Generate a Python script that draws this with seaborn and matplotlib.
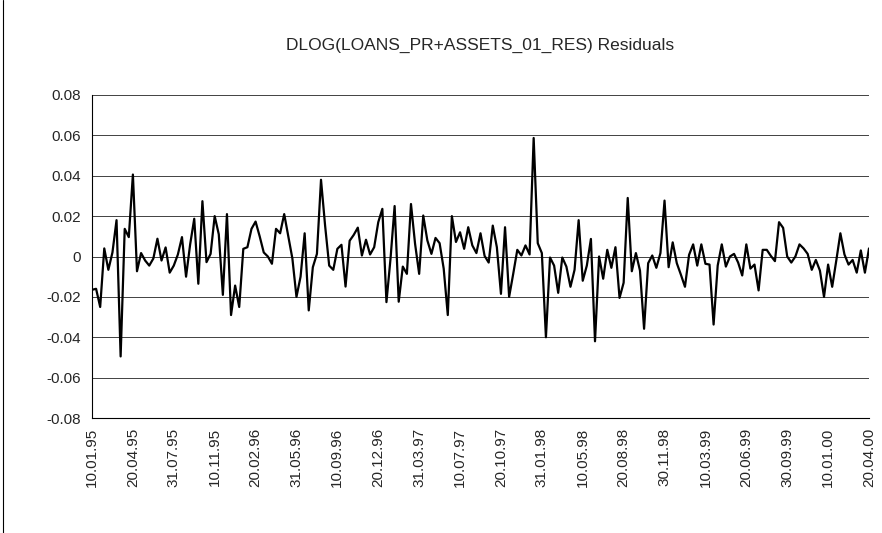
import calendar
import matplotlib
matplotlib.use("Agg")
import matplotlib.pyplot as plt
from matplotlib.lines import Line2D
import seaborn as sns
import pandas as pd
import numpy as np

# residuals, one value per dekad (10th, 20th, month end)
resid = [
    -0.0165, -0.016, -0.025, 0.004, -0.0066, 0.002, 0.018, -0.0495, 0.0137, 0.0096,
    0.0406, -0.0073, 0.0017, -0.002, -0.0045, -0.001, 0.0088, -0.002, 0.0045, -0.008,
    -0.0045, 0.001, 0.0096, -0.010, 0.006, 0.0187, -0.0135, 0.0274, -0.0028, 0.0013,
    0.020,
    0.011, -0.019, 0.021, -0.029, -0.0144, -0.025, 0.0038, 0.0046, 0.0137, 0.0173,
    0.010, 0.002, 0.0, -0.0036, 0.0137, 0.0115, 0.021, 0.010, -0.001, -0.020,
    -0.010, 0.0115, -0.0267, -0.0053, 0.0013, 0.038, 0.0153, -0.0045, -0.0066, 0.0038,
    0.0058,
    -0.0149, 0.0078, 0.0107, 0.0143, 0.0005, 0.0083, 0.001, 0.0046, 0.017, 0.0236,
    -0.0226, -0.001, 0.025, -0.0224, -0.005, -0.0086, 0.026, 0.0063, -0.0086, 0.0203,
    0.008, 0.0013, 0.0092, 0.0066, -0.006, -0.029,
    0.020, 0.0072, 0.012, 0.0038, 0.0145, 0.0055, 0.0017, 0.0115, 0.0003, -0.003,
    0.0153, 0.0046, -0.0185, 0.0145, -0.020, -0.0086, 0.0033, 0.0005, 0.0055, 0.001,
    0.0587,
    0.0066, 0.0017, -0.040, -0.0005, -0.0045, -0.018, -0.0005, -0.005, -0.015, -0.0066,
    0.018, -0.012, -0.0045, 0.0087, -0.042,
    0.0, -0.011, 0.0033, -0.0056, 0.0046, -0.0205, -0.013, 0.029, -0.0073, 0.0017,
    -0.007, -0.0358, -0.0033, 0.0005, -0.0056, 0.0017, 0.0277, -0.0053, 0.007, -0.0033,
    -0.009, -0.015, 0.0008, 0.006, -0.0045, 0.006, -0.0036, -0.004, -0.0337, -0.0045,
    0.006, -0.005,
    0.0, 0.0013, -0.003, -0.0094, 0.006, -0.006, -0.004, -0.0168, 0.0033, 0.0033,
    0.0003, -0.0023, 0.017, 0.0142, 0.0, -0.003, 0.0, 0.006, 0.004, 0.0013,
    -0.0066, -0.0017, -0.007, -0.020, -0.004, -0.015, -0.002, 0.0115, 0.001, -0.004,
    -0.0017,
    -0.008, 0.003, -0.008, 0.004,
]

# dekad dates 10.01.95 ... 20.04.00
dates = []
for yr in range(1995, 2001):
    for m in range(1, 13):
        for d in (10, 20, calendar.monthrange(yr, m)[1]):
            dates.append(f"{d:02d}.{m:02d}.{yr % 100:02d}")
dates = dates[:len(resid)]

y_ticks = [-0.08, -0.06, -0.04, -0.02, 0, 0.02, 0.04, 0.06, 0.08]
y_labels = ["-0.08", "-0.06", "-0.04", "-0.02", "0", "0.02", "0.04", "0.06", "0.08"]

df = pd.DataFrame({"pos": range(len(resid)), "date": dates, "resid": resid})

sns.set_style("white")
plt.rcParams["font.family"] = ["Liberation Sans", "DejaVu Sans"]

fig = plt.figure(figsize=(8.82, 5.33), dpi=100)
ax = fig.add_axes([92 / 882, 1 - 418 / 533, 777 / 882, 323 / 533])

sns.lineplot(data=df, x="pos", y="resid", color="black", linewidth=1.6, ax=ax)

ax.set_xlim(0, len(resid) - 1)
ax.set_ylim(-0.08, 0.08)
ax.set_yticks(y_ticks)
ax.set_yticklabels(y_labels, fontsize=11)
ax.yaxis.grid(True, color="#222222", linewidth=0.6)
ax.set_axisbelow(True)

ax.set_xticks(df["pos"][::10])
ax.set_xticklabels(df["date"][::10], rotation=90, fontsize=11)
ax.set_xticks(df["pos"], minor=True)
ax.tick_params(axis="x", which="both", direction="inout", length=6, width=0.6, color="black", pad=4)
ax.tick_params(axis="y", direction="out", length=5, width=0.6, color="black", pad=3)
ax.set_xlabel("")
ax.set_ylabel("")

for s in ["top", "right"]:
    ax.spines[s].set_visible(False)
for s in ["left", "bottom"]:
    ax.spines[s].set_color("black")
    ax.spines[s].set_linewidth(0.8)

fig.text(480 / 882, 1 - 45 / 533, "DLOG(LOANS_PR+ASSETS_01_RES) Residuals",
         ha="center", va="center", fontsize=12.5)

# chart area border on the left edge of the screenshot
fig.add_artist(Line2D([3 / 882, 3 / 882], [0, 1], color="black", linewidth=0.8))

fig.savefig("out.png", dpi=100)
